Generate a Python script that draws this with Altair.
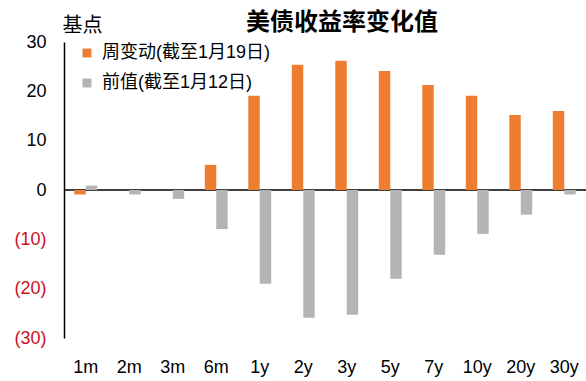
import altair as alt
import pandas as pd

# Treasury tenors and yield changes in basis points
tenors = ["1m", "2m", "3m", "6m", "1y", "2y", "3y", "5y", "7y", "10y", "20y", "30y"]
weekly_change = [-0.9, 0, 0, 5.1, 19.1, 25.4, 26.2, 24.1, 21.3, 19.1, 15.2, 16.0]
previous_week = [0.9, -0.9, -1.8, -7.9, -19.0, -25.9, -25.3, -18.0, -13.1, -8.9, -5.0, -0.9]
series_names = ["周变动(截至1月19日)", "前值(截至1月12日)"]
series_colors = ["#ED7D31", "#B4B4B4"]
y_ticks = [-30, -20, -10, 0, 10, 20, 30]

rows = []
for t, a, b in zip(tenors, weekly_change, previous_week):
    rows.append({"tenor": t, "series": series_names[0], "value": a})
    rows.append({"tenor": t, "series": series_names[1], "value": b})
df = pd.DataFrame(rows)
zero_df = pd.DataFrame({"base": [0]})

FONT = "Liberation Sans, Arial, Noto Sans CJK SC"
W, H = 522, 296

x_scale = alt.Scale(paddingInner=0, paddingOuter=0)
y_scale = alt.Scale(domain=[-30, 30], nice=False)

# Zero line across the plot
zero_line = alt.Chart(zero_df).mark_rule(color="black", strokeWidth=1.5).encode(
    y=alt.Y("base:Q", scale=y_scale),
)

bars = alt.Chart(df).mark_bar().encode(
    x=alt.X("tenor:N", sort=tenors, scale=x_scale,
            axis=alt.Axis(title=None, domain=False, ticks=False, labelAngle=0,
                          labelFontSize=18, labelColor="black", labelPadding=20,
                          labelFont=FONT)),
    xOffset=alt.XOffset("series:N", sort=series_names,
                        scale=alt.Scale(paddingInner=0, paddingOuter=0.9)),
    y=alt.Y("value:Q", scale=y_scale,
            axis=alt.Axis(values=y_ticks, grid=False, domain=True, domainColor="black",
                          domainWidth=1.5, ticks=False, labelPadding=18,
                          labelFontSize=18, labelFont=FONT,
                          labelExpr="datum.value < 0 ? '(' + format(-datum.value, 'd') + ')' : format(datum.value, 'd')",
                          labelColor={"condition": {"test": "datum.value < 0", "value": "#CC1020"},
                                      "value": "black"},
                          title="基点", titleAngle=0, titleAlign="left",
                          titleBaseline="alphabetic", titleX=-2, titleY=-11,
                          titleFontSize=20, titleFontWeight="normal",
                          titleFont=FONT, titleColor="black")),
    color=alt.Color("series:N", sort=series_names,
                    scale=alt.Scale(domain=series_names, range=series_colors),
                    legend=alt.Legend(title=None, orient="none", legendX=14, legendY=2,
                                      symbolType="square", symbolSize=80,
                                      symbolStrokeWidth=0, labelFontSize=18,
                                      labelFont=FONT, labelColor="black", labelLimit=0,
                                      labelOffset=6, rowPadding=12, padding=0)),
)

chart = alt.layer(zero_line, bars).properties(
    width=W, height=H,
    autosize=alt.AutoSizeParams(type="none"),
    padding={"left": 64, "top": 42, "right": 0, "bottom": 43},
    title=alt.TitleParams("美债收益率变化值", anchor="start", frame="group",
                          dx=182, offset=-39, baseline="alphabetic",
                          fontSize=24, fontWeight="bold", font=FONT, color="black"),
    background="white",
).configure_view(stroke=None)

chart.save("out.html", embed_options={"renderer": "svg", "actions": False})
